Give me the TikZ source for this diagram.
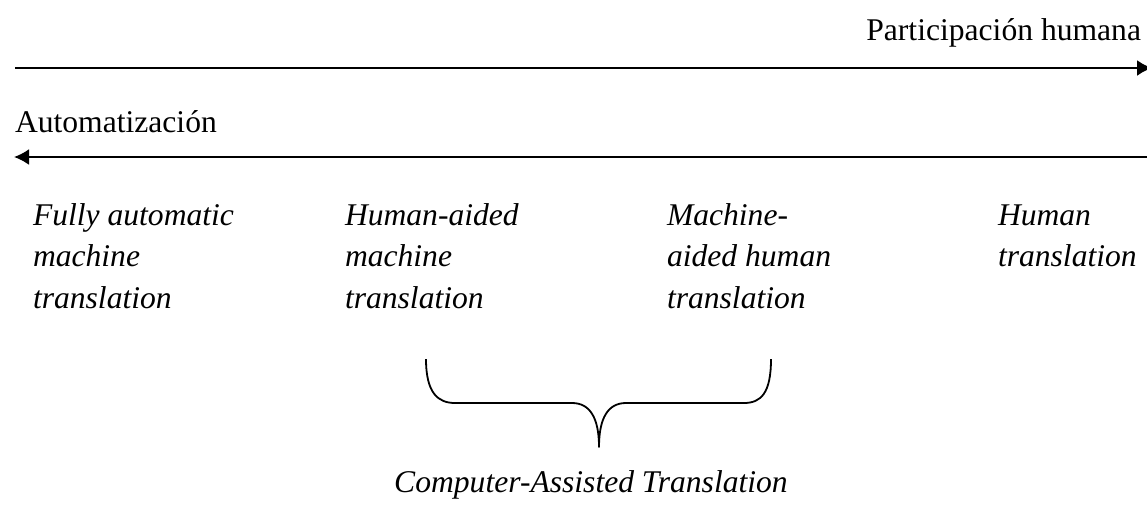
\documentclass[tikz,border=0pt]{standalone}
\usepackage{fontspec}
\setmainfont{Liberation Serif}
\usetikzlibrary{arrows.meta}
\begin{document}
\begin{tikzpicture}[x=1pt,y=-1pt,
  every node/.style={inner sep=0pt,outer sep=0pt},
  lbl/.style={font=\fontsize{31.6}{41.5}\selectfont,anchor=base west},
  col/.style={lbl,font=\fontsize{31.6}{41.5}\selectfont\itshape,align=left},
  axis/.style={line width=2pt},
  tip/.style={-{Latex[length=15pt,width=16pt]}},
  bracestroke/.style={line width=1.8pt,line join=round}]
\useasboundingbox (0,0) rectangle (1147,507);
\clip (0,0) rectangle (1147,507);

% axis labels
\node[lbl,anchor=base east] (hum) at (1141,40) {Participación humana};
\node[lbl] (aut) at (15,132) {Automatización};

% the two opposing arrows
\coordinate (hstart) at (15,68);
\coordinate (hend) at (1152,68);
\coordinate (astart) at (1147,157);
\coordinate (aend) at (14,157);
\draw[axis,tip] (hstart) -- (hend);
\draw[axis,tip] (astart) -- (aend);

% the four kinds of translation (anchored at the baseline of the last line)
\node[col] (fa) at (33,308) {Fully automatic\\machine\\translation};
\node[col] (ha) at (345,308) {Human-aided\\machine\\translation};
\node[col] (ma) at (667,308) {Machine-\\aided human\\translation};
\node[col] (ht) at (998,266.5) {Human\\translation};

% brace grouping the two middle kinds
\draw[bracestroke] (426,359) .. controls (426,393) and (438,403) .. (455,403)
  -- (572,403) .. controls (590,403) and (599,418) .. (599,447)
  .. controls (599,418) and (608,403) .. (626,403)
  -- (744,403) .. controls (761,403) and (771,393) .. (771,359);

\node[col,anchor=base] (cat) at (591,492) {Computer-Assisted Translation};
\end{tikzpicture}
\end{document}
